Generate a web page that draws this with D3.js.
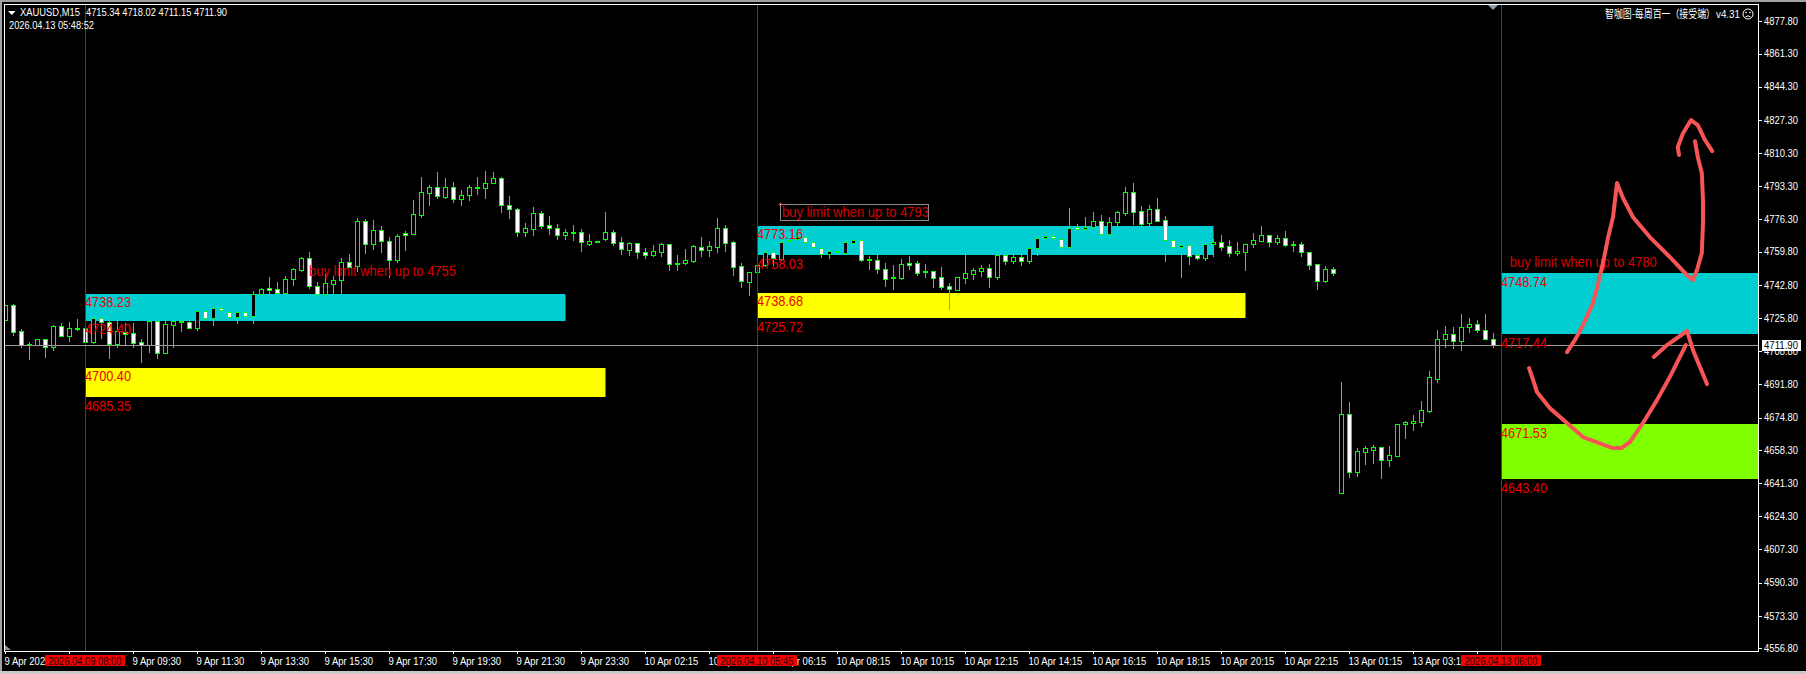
<!DOCTYPE html>
<html><head><meta charset="utf-8">
<style>html,body{margin:0;padding:0;background:#000;overflow:hidden}svg{display:block}</style>
<script src="https://cdn.jsdelivr.net/npm/d3@7/dist/d3.min.js"></script>
</head><body><svg id="c" width="1806" height="674"></svg>
<script>
// ---------- OHLC, one entry per 15-minute bar ----------
const open = [4724.8,4732.5,4719.0,4712.3,4712.0,4714.9,4711.2,4721.6,4716.8,4720.5,
4720.5,4713.7,4726.0,4723.6,4712.7,4718.8,4718.0,4713.4,4712.0,4724.1,
4708.1,4722.4,4724.1,4723.6,4720.9,4729.6,4726.0,4730.8,4729.1,4726.2,
4729.1,4727.0,4737.9,4741.0,4740.8,4738.8,4745.6,4750.4,4756.4,4742.0,
4737.9,4743.4,4745.4,4754.3,4752.6,4775.3,4763.9,4770.7,4765.1,4755.7,
4769.2,4769.0,4778.7,4790.0,4792.7,4788.0,4792.7,4786.9,4788.6,4792.9,
4792.6,4795.1,4797.3,4783.5,4781.5,4770.0,4771.6,4779.4,4773.3,4771.7,
4768.5,4769.8,4769.7,4763.9,4765.2,4766.4,4769.7,4764.6,4760.8,4764.1,
4759.4,4757.9,4759.8,4763.5,4753.8,4753.8,4755.0,4762.3,4760.5,4762.3,
4771.7,4764.6,4752.3,4744.4,4749.5,4752.8,4759.8,4756.0,4765.1,4766.4,
4767.1,4764.9,4761.8,4758.4,4760.0,4759.3,4764.4,4765.6,4755.9,4755.4,
4750.7,4746.6,4746.3,4753.8,4753.8,4749.9,4749.7,4746.6,4742.0,4740.3,
4746.5,4748.5,4750.1,4751.3,4747.0,4757.9,4755.2,4756.9,4755.2,4761.5,
4766.6,4768.0,4766.4,4762.3,4772.2,4771.6,4772.2,4775.3,4769.0,4775.0,
4779.8,4790.2,4780.4,4774.6,4781.5,4775.8,4765.6,4762.0,4763.0,4757.9,
4756.7,4763.5,4764.6,4762.5,4758.9,4759.8,4763.5,4765.4,4768.2,4764.9,
4766.6,4763.5,4763.5,4759.4,4753.3,4744.9,4750.7,4636.0,4676.5,4647.1,
4657.4,4658.4,4659.6,4653.3,4655.3,4671.4,4672.2,4672.8,4678.4,4694.8,
4715.2,4717.5,4714.2,4721.0,4722.6,4719.5,4715.34];
const high = [4732.5,4733.0,4720.2,4713.7,4714.9,4714.9,4722.2,4723.1,4723.8,4725.1,
4721.0,4726.0,4726.5,4724.8,4724.8,4723.1,4723.1,4715.1,4730.3,4724.1,
4731.1,4724.1,4726.2,4727.9,4733.0,4733.0,4733.3,4733.0,4732.5,4729.9,
4733.0,4739.6,4741.0,4747.0,4744.3,4747.3,4751.3,4757.2,4759.6,4744.3,
4748.3,4747.3,4756.7,4758.6,4776.9,4776.5,4776.0,4772.9,4767.1,4768.8,
4770.4,4786.2,4798.0,4793.9,4800.6,4797.5,4795.5,4791.4,4793.9,4798.0,
4801.1,4800.6,4798.0,4788.3,4782.1,4774.5,4782.7,4780.8,4778.0,4774.0,
4771.4,4773.4,4771.4,4768.8,4765.4,4780.1,4770.9,4767.5,4764.7,4764.4,
4761.5,4763.2,4764.1,4763.7,4758.1,4761.0,4763.2,4767.3,4765.2,4777.0,
4773.4,4765.2,4753.8,4749.5,4753.0,4761.5,4759.8,4765.8,4769.2,4770.0,
4770.9,4765.8,4764.9,4763.2,4764.1,4767.8,4768.7,4765.8,4757.7,4758.1,
4753.8,4753.0,4756.0,4757.6,4755.2,4753.5,4749.7,4751.9,4743.7,4746.6,
4760.6,4751.3,4753.0,4753.5,4760.6,4759.6,4759.3,4759.6,4762.0,4767.5,
4768.3,4769.5,4770.5,4782.1,4773.8,4777.7,4780.1,4778.6,4777.5,4780.4,
4792.7,4794.8,4783.2,4783.7,4787.3,4778.0,4769.7,4763.0,4764.9,4765.4,
4766.1,4766.3,4768.3,4765.8,4764.7,4763.5,4769.2,4772.9,4768.2,4768.3,
4770.4,4765.2,4764.7,4759.4,4753.3,4752.4,4751.8,4693.0,4682.8,4659.1,
4660.3,4660.8,4659.6,4660.3,4671.4,4673.1,4676.2,4683.3,4698.7,4719.7,
4721.7,4721.0,4727.9,4725.8,4724.8,4727.9,4718.02];
const low = [4724.8,4717.1,4711.2,4704.8,4712.0,4706.0,4709.4,4716.8,4714.0,4719.7,
4713.7,4713.0,4715.4,4705.5,4711.2,4712.0,4711.2,4703.5,4708.6,4705.5,
4708.1,4711.2,4719.3,4720.9,4719.7,4725.1,4722.2,4729.1,4726.2,4723.4,
4725.7,4723.4,4736.4,4738.8,4738.5,4738.1,4742.7,4750.1,4741.4,4734.7,
4735.0,4737.6,4737.9,4751.8,4750.1,4759.3,4761.2,4759.6,4747.0,4754.5,
4760.6,4769.0,4777.5,4783.7,4787.4,4787.3,4785.2,4783.7,4786.2,4789.6,
4787.4,4795.1,4780.1,4777.0,4767.8,4767.8,4768.3,4772.1,4768.8,4766.3,
4766.3,4765.8,4760.1,4763.2,4764.8,4765.8,4763.2,4758.6,4758.1,4756.5,
4756.5,4757.7,4757.7,4750.4,4750.4,4753.5,4754.5,4757.6,4757.6,4759.8,
4760.1,4747.8,4741.7,4737.6,4749.2,4752.4,4753.0,4755.5,4764.1,4764.1,
4764.9,4761.5,4757.2,4756.5,4758.6,4758.9,4764.1,4755.0,4750.9,4749.0,
4742.4,4740.7,4745.8,4750.9,4747.8,4747.0,4741.9,4740.8,4730.4,4740.3,
4743.7,4746.0,4747.5,4741.9,4745.8,4753.5,4753.8,4753.1,4754.2,4758.1,
4762.0,4763.2,4758.9,4762.0,4763.2,4767.5,4765.8,4764.9,4765.4,4767.0,
4778.7,4774.1,4770.4,4768.8,4775.5,4755.2,4758.4,4747.0,4753.5,4756.2,
4755.5,4757.6,4760.6,4757.6,4758.1,4750.4,4762.2,4765.4,4762.7,4763.7,
4762.7,4760.1,4757.6,4750.9,4740.7,4744.3,4747.8,4636.0,4644.6,4645.1,
4651.2,4651.8,4644.1,4650.2,4655.3,4664.5,4668.5,4670.5,4677.9,4693.2,
4711.1,4710.6,4709.6,4718.7,4718.7,4715.1,4711.15];
const close = [4732.5,4718.8,4712.0,4712.0,4714.9,4711.2,4721.6,4716.8,4720.5,4720.2,
4713.7,4726.0,4723.6,4712.7,4719.0,4717.8,4713.2,4712.0,4724.1,4708.1,
4722.6,4724.1,4723.6,4720.9,4729.6,4726.0,4730.8,4729.8,4726.5,4729.1,
4727.0,4737.9,4740.5,4740.3,4738.8,4745.6,4750.7,4756.4,4742.4,4737.9,
4743.6,4745.4,4754.3,4752.1,4775.3,4763.9,4770.7,4765.4,4755.7,4768.1,
4768.5,4778.9,4790.2,4792.7,4788.1,4792.7,4786.9,4788.6,4792.7,4792.6,
4794.8,4797.3,4783.5,4781.8,4770.0,4771.7,4779.4,4773.1,4771.7,4768.5,
4769.7,4769.5,4764.6,4765.1,4764.9,4769.7,4764.1,4761.0,4764.1,4759.4,
4757.9,4760.0,4763.7,4753.6,4753.5,4755.4,4762.5,4760.5,4762.5,4771.7,
4764.4,4752.1,4744.6,4749.4,4752.8,4759.8,4756.4,4764.9,4765.8,4767.3,
4764.9,4762.0,4758.4,4760.0,4759.4,4764.6,4765.6,4755.7,4755.4,4750.7,
4746.0,4746.1,4753.3,4753.1,4749.0,4749.5,4746.5,4741.9,4740.5,4746.6,
4748.7,4750.2,4751.3,4747.0,4757.9,4755.2,4756.9,4755.2,4761.5,4767.0,
4768.0,4766.6,4762.3,4772.1,4771.6,4772.2,4775.3,4768.7,4774.8,4779.9,
4790.2,4780.3,4774.1,4781.5,4775.7,4765.6,4762.0,4763.0,4757.7,4756.7,
4763.5,4764.6,4762.3,4758.9,4760.0,4763.5,4765.6,4768.2,4764.9,4766.6,
4763.4,4763.2,4759.4,4753.1,4744.9,4750.7,4749.0,4676.5,4647.1,4657.5,
4659.1,4659.8,4653.3,4655.5,4671.4,4672.4,4672.9,4678.5,4695.4,4714.9,
4717.5,4714.2,4721.0,4722.6,4719.9,4715.2,4711.90];

const priceTicks = [4877.80,4861.30,4844.30,4827.30,4810.30,4793.30,4776.30,4759.80,4742.80,4725.80,
 4708.80,4691.80,4674.80,4658.30,4641.30,4624.30,4607.30,4590.30,4573.30,4556.80];
const timeTickBars = [0,8,16,24,32,40,48,56,64,72,80,88,96,104,112,120,128,136,144,152,160,168,176,184];
// the labels at bars 8, 88 and 184 are hidden (fully or mostly) by the red time tags in the picture
const timeTickLabels = ["9 Apr 2026","","9 Apr 09:30","9 Apr 11:30","9 Apr 13:30","9 Apr 15:30","9 Apr 17:30","9 Apr 19:30","9 Apr 21:30","9 Apr 23:30",
 "10 Apr 02:15","10 Apr 04:15","10 Apr 06:15","10 Apr 08:15","10 Apr 10:15","10 Apr 12:15","10 Apr 14:15","10 Apr 16:15","10 Apr 18:15","10 Apr 20:15","10 Apr 22:15",
 "13 Apr 01:15","13 Apr 03:15",""];

// zones: [first bar, last bar, upper price, lower price, colour]
const LAST = 219.125;
const zones = [
 [10,70,4738.23,4724.40,"#00ced1"],
 [10,75,4700.40,4685.35,"#ffff00"],
 [94,151,4773.16,4758.03,"#00ced1"],
 [94,155,4738.68,4725.72,"#ffff00"],
 [187,LAST,4748.74,4717.44,"#00ced1"],
 [187,LAST,4671.53,4643.40,"#7fff00"]];
// price labels printed at a zone edge
const zoneLabels = [
 [10,4738.23],[10,4724.40],[10,4700.40],[10,4685.35],
 [94,4773.16],[94,4758.03],[94,4738.68],[94,4725.72],
 [187,4748.74],[187,4717.44],[187,4671.53],[187,4643.40]];
// red session lines
const vLines = [[10,"2026.04.09 08:00"],[94,"2026.04.10 05:45"],[187,"2026.04.13 06:00"]];
const bid = 4711.90;
// notes: [bar, price, text, boxed]
const notes = [[38,4747.3,"buy limit when up to 4755",false],[97,4777.5,"buy limit when up to 4793",true],[188.1,4751.9,"buy limit when up to 4780",false]];
// hand-drawn arrows, as [bar, price]
const strokeA = [[195.25,4708.4],[196.25,4714.6],[197.25,4722.2],[198.5,4733.5],[199.1,4742.7],[199.75,4754.0],[200.4,4767.3],[201,4777.5],[201.5,4795.0],[202.25,4787.3],[203.5,4777.5],[205.6,4767.3],[208.1,4757.1],[210.25,4747.8],[211,4745.3],[211.5,4750.4],[212.1,4759.1],[212.25,4774.5],[212.25,4786.2],[212.1,4800.1],[211.6,4808.3],[211.25,4816.4]];
const strokeB = [[209.25,4809.3],[209.1,4813.4],[209.75,4820.5],[210.75,4827.2],[211.6,4824.6],[212.5,4817.0],[213.4,4811.3]];
const strokeC = [[190.5,4700.2],[190.9,4695.6],[191.5,4687.9],[193.1,4679.7],[195.25,4672.1],[197.25,4664.9],[200.9,4659.3],[202.1,4659.3],[203.1,4662.3],[204.75,4672.1],[206.5,4683.8],[208.1,4695.6],[210.1,4712.0]];
const strokeD = [[206.1,4705.9],[207.75,4712.0],[210.25,4719.2],[211,4709.4],[212.75,4692.0]];

// ---------- layout ----------
const L=5,R=1758,T=4,B=651;
const svg=d3.select("#c");
const x=d3.scaleLinear().domain([0,LAST]).range([L,R]);
const y=d3.scaleLinear().domain([4556.8,4877.8]).range([648.1,21.3]);
const sans="'Liberation Sans',Arial,sans-serif";
const fit=(t,w)=>t.attr("textLength",w).attr("lengthAdjust","spacingAndGlyphs");

// window chrome
svg.append("rect").attr("width",1806).attr("height",674).attr("fill","#000");
svg.append("rect").attr("width",1806).attr("height",2).attr("fill","#a0a0a0");
svg.append("rect").attr("width",2).attr("height",674).attr("fill","#a0a0a0");
svg.append("rect").attr("y",671).attr("width",1806).attr("height",3).attr("fill","#c8c8c8");

svg.append("defs").append("clipPath").attr("id","plot").append("rect").attr("x",L).attr("y",T).attr("width",R-L).attr("height",B-T);
const plot=svg.append("g").attr("clip-path","url(#plot)");

// zones behind the candles
plot.append("g").selectAll("rect").data(zones).join("rect")
 .attr("x",d=>x(d[0])+.5).attr("width",d=>x(d[1])-x(d[0]))
 .attr("y",d=>Math.round(y(d[2]))).attr("height",d=>Math.round(y(d[3]))-Math.round(y(d[2])))
 .attr("fill",d=>d[4]);

// candles
const idx=d3.range(open.length);
const green="#00ff00";
const cg=plot.append("g").attr("shape-rendering","crispEdges");
cg.selectAll("line").data(idx).join("line")
 .attr("x1",i=>x(i)+.5).attr("x2",i=>x(i)+.5)
 .attr("y1",i=>Math.round(y(high[i]))).attr("y2",i=>Math.round(y(low[i]))+1)
 .attr("stroke",green);
cg.selectAll("rect").data(idx).join("rect")
 .attr("x",i=>x(i)-1.5).attr("width",4)
 .attr("y",i=>Math.round(y(Math.max(open[i],close[i])))+.5)
 .attr("height",i=>Math.max(1,Math.round(y(Math.min(open[i],close[i])))-Math.round(y(Math.max(open[i],close[i])))))
 .attr("fill",i=>close[i]>=open[i]?"#000":"#fff")
 .attr("stroke",green);

// session lines and bid line
plot.append("g").attr("shape-rendering","crispEdges").selectAll("line").data(vLines).join("line")
 .attr("x1",d=>x(d[0])+.5).attr("x2",d=>x(d[0])+.5).attr("y1",T).attr("y2",B).attr("stroke","#e00000");
plot.append("line").attr("shape-rendering","crispEdges")
 .attr("x1",L).attr("x2",R).attr("y1",Math.round(y(bid))+.5).attr("y2",Math.round(y(bid))+.5).attr("stroke","#9a9a9a");

// zone labels
const labelG=svg.append("g").attr("font-family",sans).attr("font-size",15).attr("fill","#ea0000");
labelG.selectAll("text").data(zoneLabels).join("text")
 .attr("x",d=>x(d[0])).attr("y",d=>y(d[1])+13.5).text(d=>d3.format(".2f")(d[1])).call(fit,46);

// notes
const noteG=svg.append("g").attr("font-family",sans).attr("font-size",14).attr("fill","#d80000");
notes.forEach(n=>{
  const nx=x(n[0]), ny=y(n[1]);
  if(n[3]){
    noteG.append("rect").attr("shape-rendering","crispEdges").attr("x",nx-.5).attr("y",ny-12.5).attr("width",148).attr("height",16).attr("fill","none").attr("stroke","#8a8a8a");
    noteG.append("rect").attr("shape-rendering","crispEdges").attr("x",nx-2).attr("y",ny-14).attr("width",2).attr("height",2).attr("fill","#fff").attr("stroke","#f00000");
  }
  noteG.append("text").attr("x",nx+(n[3]?1:0)).attr("y",ny).text(n[2]).call(fit,147);
});

// hand drawn strokes
const pen=d3.line().x(d=>x(d[0])).y(d=>y(d[1])).curve(d3.curveLinear);
svg.append("g").attr("clip-path","url(#plot)").selectAll("path").data([strokeA,strokeB,strokeC,strokeD]).join("path")
 .attr("d",pen).attr("fill","none").attr("stroke","#f75555").attr("stroke-width",4).attr("stroke-linecap","round").attr("stroke-linejoin","round");

// markers
svg.append("path").attr("d",d3.line()([[x(186)-5,5],[x(186)+5,5],[x(186),10]])+"Z").attr("fill","#8c9aa8");
svg.append("path").attr("d",d3.line()([[L,645],[L,650],[L+6,650]])+"Z").attr("fill","#8c9aa8");

// frame
svg.append("rect").attr("shape-rendering","crispEdges").attr("x",4.5).attr("y",4.5).attr("width",R-4.5).attr("height",B-4.5).attr("fill","none").attr("stroke","#fff");

// right axis
const ay=svg.append("g").attr("transform",`translate(${R},0)`)
 .call(d3.axisRight(y).tickValues(priceTicks).tickSize(4).tickPadding(2).tickFormat(d3.format(".2f")));
ay.select(".domain").remove();
ay.selectAll("line").attr("stroke","#fff").attr("shape-rendering","crispEdges");
ay.selectAll("text").attr("fill","#fff").attr("font-family",sans).attr("font-size",10).attr("x",6).call(fit,34);

// bottom axis
const ax=svg.append("g").attr("transform",`translate(0,${B-.5})`)
 .call(d3.axisBottom(x).tickValues(timeTickBars).tickSize(3).tickFormat((d,i)=>timeTickLabels[i]));
ax.select(".domain").remove();
ax.selectAll("line").attr("stroke","#fff").attr("shape-rendering","crispEdges");
ax.selectAll("text").attr("fill","#fff").attr("font-family",sans).attr("font-size",10).attr("text-anchor","start").attr("x",-1).attr("y",6).attr("dy","8").each(function(){
  const t=d3.select(this); if(t.text()) t.call(fit,this.getComputedTextLength()*0.95);
});

// red time tags
const tag=svg.append("g").attr("font-family",sans).attr("font-size",10);
vLines.forEach(v=>{
  tag.append("rect").attr("x",x(v[0])-40).attr("y",655).attr("width",80).attr("height",11).attr("fill","#f00000");
  tag.append("text").attr("x",x(v[0])).attr("y",664.5).attr("text-anchor","middle").attr("fill","#1a0000").text(v[1]).call(fit,73);
});

// bid tag
const by=Math.round(y(bid));
svg.append("rect").attr("x",R+4).attr("y",by-5).attr("width",39).attr("height",11).attr("fill","#fff");
svg.append("text").attr("x",R+6).attr("y",by+4).attr("font-family",sans).attr("font-size",10).attr("fill","#000").text(d3.format(".2f")(bid)).call(fit,34);

// header
const hdr=svg.append("g").attr("font-family",sans).attr("font-size",10).attr("fill","#fff");
hdr.append("path").attr("d",d3.line()([[8,11],[15.5,11],[11.75,15]])+"Z");
hdr.append("text").attr("x",20).attr("y",16).text("XAUUSD,M15").call(fit,60);
hdr.append("text").attr("x",86).attr("y",16).text("4715.34 4718.02 4711.15 4711.90").call(fit,141);
hdr.append("text").attr("x",9).attr("y",29).text("2026.04.13 05:48:52").call(fit,85);

// expert label and smiley
hdr.append("text").attr("x",1605).attr("y",18).attr("font-family","'Noto Sans CJK SC',sans-serif").attr("font-size",11).text("智咖图-每周百一（接受端）").call(fit,110);
hdr.append("text").attr("x",1716).attr("y",18).attr("font-size",10.5).text("v4.31").call(fit,24);
const fx=1748,fy=14;
const face=svg.append("g").attr("fill","none").attr("stroke","#fff");
face.append("circle").attr("cx",fx).attr("cy",fy).attr("r",5);
face.append("path").attr("d",`M${fx-2.5},${fy+3} Q${fx},${fy+0.5} ${fx+2.5},${fy+3}`);
face.append("circle").attr("cx",fx-2).attr("cy",fy-1.5).attr("r",.5);
face.append("circle").attr("cx",fx+2).attr("cy",fy-1.5).attr("r",.5);
</script></body></html>
